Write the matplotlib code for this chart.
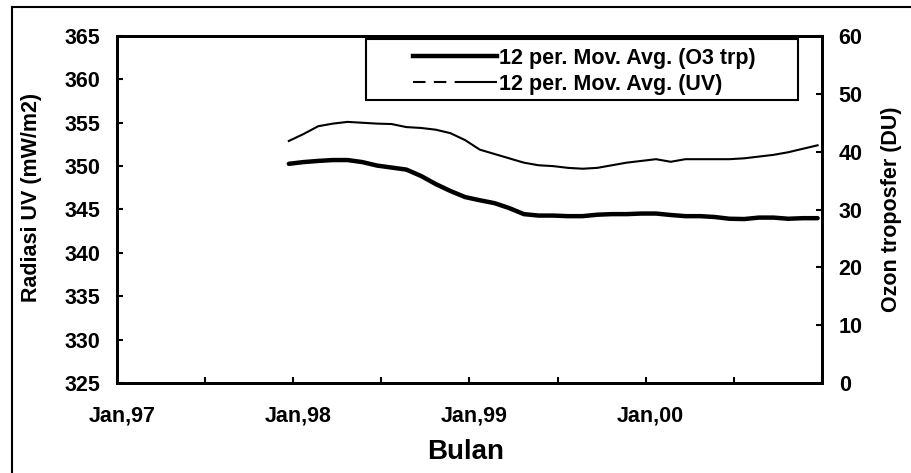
import numpy as np
import matplotlib.pyplot as plt
from matplotlib.lines import Line2D
from matplotlib.patches import Rectangle
import matplotlib.transforms as mtransforms

plt.rcParams['font.family'] = ['Liberation Sans', 'DejaVu Sans']
plt.rcParams['font.weight'] = 'bold'

# months counted from Jan 1997 (12-month moving averages)
start_month = 11.7
uv_avg = [352.9, 353.7, 354.6, 354.9, 355.1, 355.0, 354.9, 354.85, 354.5, 354.4,
          354.2, 353.8, 353.0, 351.9, 351.4, 350.9, 350.4, 350.1, 350.0, 349.8,
          349.7, 349.8, 350.1, 350.4, 350.6, 350.8, 350.5, 350.8, 350.8, 350.8,
          350.8, 350.9, 351.1, 351.3, 351.6, 352.0, 352.4]
o3_avg = [37.9, 38.2, 38.4, 38.55, 38.55, 38.2, 37.6, 37.25, 36.9, 35.8,
          34.4, 33.2, 32.15, 31.6, 31.1, 30.25, 29.2, 28.95, 28.95, 28.85,
          28.85, 29.1, 29.2, 29.2, 29.3, 29.3, 29.05, 28.85, 28.85, 28.7,
          28.4, 28.35, 28.6, 28.6, 28.4, 28.5, 28.5]
months = start_month + np.arange(len(uv_avg))

tick_months = np.arange(0, 49, 6)
tick_labels = ['Jan,97', '', 'Jan,98', '', 'Jan,99', '', 'Jan,00', '', '']

fig = plt.figure(figsize=(9.12, 4.73), dpi=100)
ax = fig.add_axes([117 / 912, 1 - 383 / 473, 705 / 912, 347 / 473])
ax2 = ax.twinx()

ax.plot(months, uv_avg, color='black', lw=1.5)
ax2.plot(months, o3_avg, color='black', lw=3.2, solid_capstyle='round')

ax.set_xlim(0, 48)
ax.set_ylim(325, 365)
ax2.set_ylim(0, 60)
ax.set_yticks(np.arange(325, 366, 5))
ax2.set_yticks(np.arange(0, 61, 10))
ax.set_xticks(tick_months)
ax.set_xticklabels(tick_labels)

fs = 15.5
ax.tick_params(axis='y', direction='in', length=4, width=1.5, labelsize=fs, pad=12)
ax2.tick_params(axis='y', direction='in', length=4, width=1.5, labelsize=fs, pad=12)
ax.tick_params(axis='x', direction='in', length=4, width=1.5, labelsize=fs, pad=16)
for lab in ax.get_xticklabels():
    lab.set_transform(lab.get_transform() + mtransforms.ScaledTranslation(5 / 100, 0, fig.dpi_scale_trans))

for a in (ax, ax2):
    for s in a.spines.values():
        s.set_linewidth(2)

ax.set_ylabel('Radiasi UV (mW/m2)', fontsize=fs, fontweight='bold')
ax.yaxis.set_label_coords(-0.106, 0.535)
ax2.set_ylabel('Ozon troposfer (DU)', fontsize=fs, fontweight='bold')
ax2.yaxis.set_label_coords(1.084, 0.5)
ax.set_xlabel('Bulan', fontsize=20, fontweight='bold')
ax.xaxis.set_label_coords(0.494, -0.16)

# legend box
ax2.add_patch(Rectangle((0.353, 0.816), 0.613, 0.175, transform=ax2.transAxes,
                        fill=False, edgecolor='black', lw=1.5, zorder=5, clip_on=False))
handles = [Line2D([], [], color='black', lw=3.2),
           Line2D([], [], color='black', lw=1.5, dashes=(6, 4, 6, 4, 20, 0))]
ax2.legend(handles, ['12 per. Mov. Avg. (O3 trp)', '12 per. Mov. Avg. (UV)'],
           loc='upper left', bbox_to_anchor=((413 - 117) / 705, 0.966), frameon=False,
           fontsize=fs, handlelength=3.9, handletextpad=0.1, labelspacing=0.22,
           borderpad=0, borderaxespad=0)

# outer frame
fig.add_artist(Line2D([12 / 912, 12 / 912], [0, 1 - 7 / 473], color='black', lw=1.5))
fig.add_artist(Line2D([12 / 912, 1], [1 - 7 / 473, 1 - 7 / 473], color='black', lw=1.5))

fig.savefig('out.png', dpi=100)
